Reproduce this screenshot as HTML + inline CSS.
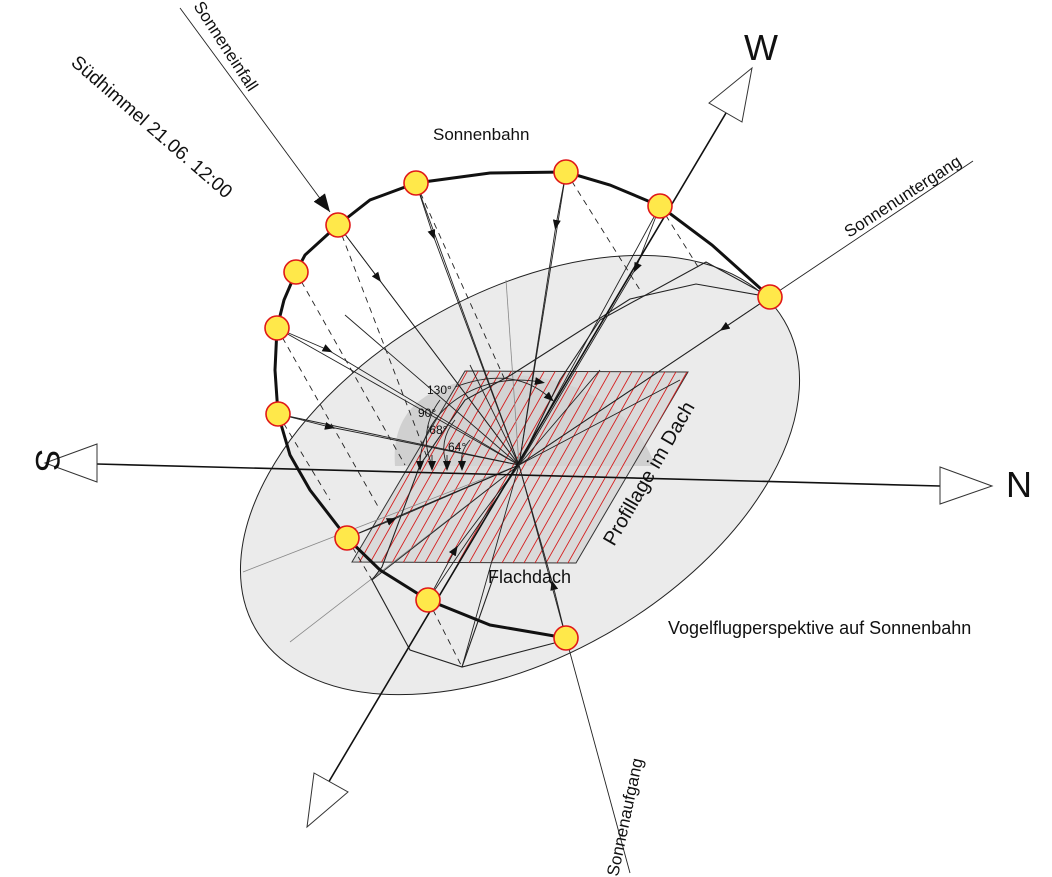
<!DOCTYPE html>
<html><head><meta charset="utf-8"><style>html,body{margin:0;padding:0;background:#fff}svg{display:block}text{font-family:"Liberation Sans",sans-serif;fill:#111}</style></head>
<body>
<svg width="1052" height="877" viewBox="0 0 1052 877" xmlns="http://www.w3.org/2000/svg">
<defs>
<marker id="ar" markerWidth="10" markerHeight="8" refX="5" refY="4" orient="auto" markerUnits="userSpaceOnUse"><path d="M0,0 L10,4 L0,8 Z" fill="#111"/></marker>
<marker id="arB" markerWidth="18" markerHeight="14" refX="18" refY="7" orient="auto" markerUnits="userSpaceOnUse"><path d="M0,0 L18,7 L0,14 Z" fill="#111"/></marker>
<clipPath id="pg"><polygon points="465,371 688,372 576,563 352,562"/></clipPath>
</defs>
<ellipse cx="520" cy="475" rx="306" ry="181" transform="rotate(-30.3 520 475)" fill="#ebebeb" stroke="#222" stroke-width="1"/>
<path d="M395,466 C390,400 440,378 515,375 C590,378 640,420 655,466 Z" fill="#c9c9c9" opacity="0.8"/>
<polygon points="465,371 688,372 576,563 352,562" fill="#d4d4d4" fill-opacity="0.75" stroke="#333" stroke-width="1"/>
<g clip-path="url(#pg)" stroke="#d42020" stroke-width="0.9">
<path d="M300,570 L413,370 M311,570 L424,370 M322,570 L435,370 M333,570 L446,370 M344,570 L457,370 M355,570 L468,370 M366,570 L479,370 M377,570 L490,370 M388,570 L501,370 M399,570 L512,370 M410,570 L523,370 M421,570 L534,370 M432,570 L545,370 M443,570 L556,370 M454,570 L567,370 M465,570 L578,370 M476,570 L589,370 M487,570 L600,370 M498,570 L611,370 M509,570 L622,370 M520,570 L633,370 M531,570 L644,370 M542,570 L655,370 M553,570 L666,370 M564,570 L677,370 M575,570 L688,370 M586,570 L699,370"/>
</g>
<g stroke="#888" stroke-width="0.8" fill="none">
<line x1="519" y1="465" x2="243" y2="572"/>
<line x1="519" y1="465" x2="290" y2="642"/>
<line x1="519" y1="465" x2="506" y2="280"/>
</g>
<g stroke="#222" stroke-width="1.1" fill="none">
<polyline points="770,297 696,284 630,299 511,375 465,400 420,465 382,567 372,580 410,650 462,667 566,640"/>
<polyline points="770,297 706,262 600,320 560,380 519,465"/>
<line x1="462" y1="667" x2="496" y2="570"/>
</g>
<g stroke="#222" stroke-width="0.9" fill="none">
<line x1="519" y1="465" x2="338" y2="225"/>
<line x1="519" y1="465" x2="416" y2="183"/>
<line x1="519" y1="465" x2="566" y2="172"/>
<line x1="519" y1="465" x2="660" y2="206"/>
<line x1="519" y1="465" x2="770" y2="297"/>
<line x1="519" y1="465" x2="277" y2="328"/>
<line x1="519" y1="465" x2="278" y2="414"/>
<line x1="519" y1="465" x2="347" y2="538"/>
<line x1="519" y1="465" x2="428" y2="600"/>
<line x1="519" y1="465" x2="345" y2="315"/>
<line x1="519" y1="465" x2="470" y2="365"/>
<line x1="519" y1="465" x2="600" y2="370"/>
<line x1="519" y1="465" x2="680" y2="380"/>
<line x1="519" y1="465" x2="372" y2="580"/>
<line x1="519" y1="465" x2="462" y2="667"/>
</g>
<g stroke="#222" stroke-width="0.9" marker-mid="url(#ar)" fill="none">
<polyline points="338,225 378,278 519,465"/>
<polyline points="416,183 433,235 519,465"/>
<polyline points="566,172 556,225 519,465"/>
<polyline points="660,206 636,268 519,465"/>
<polyline points="770,297 724,328 519,465"/>
<polyline points="278,414 330,427 519,465"/>
<polyline points="277,328 328,350 519,465"/>
<polyline points="347,538 392,520 519,465"/>
<polyline points="566,638 553,585 519,465"/>
<polyline points="428,600 455,550 519,465"/>
</g>
<g stroke="#222" stroke-width="0.9" stroke-dasharray="6,5" fill="none">
<line x1="338" y1="225" x2="430" y2="465"/>
<line x1="416" y1="183" x2="505" y2="380"/>
<line x1="566" y1="172" x2="640" y2="290"/>
<line x1="660" y1="206" x2="700" y2="270"/>
<line x1="296" y1="272" x2="405" y2="465"/>
<line x1="277" y1="328" x2="380" y2="510"/>
<line x1="278" y1="414" x2="330" y2="500"/>
<line x1="428" y1="600" x2="462" y2="667"/>
<line x1="347" y1="538" x2="372" y2="580"/>
</g>
<g stroke="#222" stroke-width="0.9" fill="none">
<path d="M420,465 A99,85 0 0 1 540,382" marker-end="url(#ar)"/>
<path d="M432,465 A92,75 0 0 1 440,400" />
<path d="M447,465 A75,55 0 0 1 455,420"/>
<path d="M462,465 A60,40 0 0 1 470,440"/>
<path d="M455,387 C500,370 530,380 550,398" marker-end="url(#ar)"/>
<line x1="420" y1="455" x2="420" y2="466" marker-end="url(#ar)"/>
<line x1="432" y1="455" x2="432" y2="466" marker-end="url(#ar)"/>
<line x1="447" y1="455" x2="447" y2="466" marker-end="url(#ar)"/>
<line x1="462" y1="455" x2="462" y2="466" marker-end="url(#ar)"/>
</g>
<g font-size="12">
<text x="427" y="394">130°</text>
<text x="418" y="417">90°</text>
<text x="427" y="434">'68°</text>
<text x="448" y="451">64°</text>
</g>
<line x1="97" y1="464" x2="940" y2="486" stroke="#111" stroke-width="1.6"/>
<polygon points="45,463 97,444 97,482" fill="#fff" stroke="#333" stroke-width="1"/>
<polygon points="992,486 940,467 940,504" fill="#fff" stroke="#333" stroke-width="1"/>
<line x1="726" y1="113" x2="318" y2="800" stroke="#111" stroke-width="1.6"/>
<polygon points="752,68 709,103 742,122" fill="#fff" stroke="#333" stroke-width="1"/>
<polygon points="307,827 314,773 348,792" fill="#fff" stroke="#333" stroke-width="1"/>
<g stroke="#222" stroke-width="0.9" fill="none">
<line x1="180" y1="8" x2="330" y2="212" marker-end="url(#arB)"/>
<line x1="973" y1="161" x2="770" y2="297"/>
<line x1="630" y1="873" x2="566" y2="638"/>
<line x1="566" y1="638" x2="519" y2="465"/>
</g>
<polyline points="338,225 370,200 416,183 490,173 566,172 610,185 660,206 712,245 770,297" fill="none" stroke="#111" stroke-width="3"/>
<polyline points="338,225 305,255 296,272 284,300 277,328 275,370 278,414 290,455 310,490 347,538 380,570 428,600 490,625 566,638" fill="none" stroke="#111" stroke-width="3"/>
<g fill="#ffe84a" stroke="#e01818" stroke-width="1.6">
<circle cx="338" cy="225" r="12"/><circle cx="416" cy="183" r="12"/><circle cx="566" cy="172" r="12"/>
<circle cx="660" cy="206" r="12"/><circle cx="770" cy="297" r="12"/><circle cx="296" cy="272" r="12"/>
<circle cx="277" cy="328" r="12"/><circle cx="278" cy="414" r="12"/><circle cx="347" cy="538" r="12"/>
<circle cx="428" cy="600" r="12"/><circle cx="566" cy="638" r="12"/>
</g>
<text x="433" y="140" font-size="17">Sonnenbahn</text>
<text x="488" y="583" font-size="18">Flachdach</text>
<text x="668" y="634" font-size="18">Vogelflugperspektive auf Sonnenbahn</text>
<text font-size="20" transform="translate(614,547) rotate(-60)">Profillage im Dach</text>
<text font-size="19" transform="translate(70,64) rotate(41)">Südhimmel 21.06.  12:00</text>
<text font-size="17" transform="translate(193,6) rotate(57)">Sonneneinfall</text>
<text font-size="17" transform="translate(849,238) rotate(-33)">Sonnenuntergang</text>
<text font-size="17" transform="translate(618,877) rotate(-78)">Sonnenaufgang</text>
<text font-size="34" transform="translate(36,449) rotate(90)">S</text>
<text font-size="36" x="1006" y="497">N</text>
<text font-size="36" x="744" y="60">W</text>
</svg>
</body></html>
